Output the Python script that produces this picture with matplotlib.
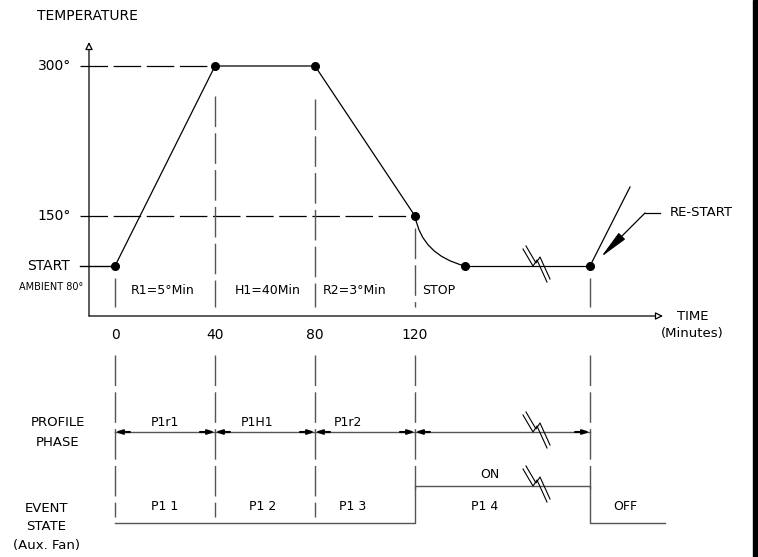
import matplotlib
matplotlib.use('Agg')
import matplotlib.pyplot as plt
from matplotlib.path import Path
from matplotlib.patches import PathPatch, Rectangle

# profile points (minutes, drawn temperature level; ambient start is drawn at level 100)
times = [0, 40, 80, 120, 140, 190]
temps = [100, 300, 300, 150, 100, 100]
tick_times = [0, 40, 80, 120]
tick_labels = ['0', '40', '80', '120']
restart_end = (206, 179)

# segment notes on the temperature chart
seg_notes = ['R1=5°Min', 'H1=40Min', 'R2=3°Min', 'STOP']
seg_note_x = [19, 61, 83, 123]
seg_note_ha = ['center', 'center', 'left', 'left']

# profile phase row
phase_bounds = [0, 40, 80, 120, 190]
phase_labels = ['P1r1', 'P1H1', 'P1r2']
phase_label_x = [20, 57, 93]

# event state row (0 = off, 1 = on)
event_bounds = [0, 120, 190, 220]
event_state = [0, 1, 0]
event_labels = ['P1 1', 'P1 2', 'P1 3', 'P1 4']
event_label_x = [20, 59, 95, 148]

BREAK_T = 168
PHASE_Y = -66
EV_LOW, EV_HIGH = -157, -120
AXIS_X, AXIS_Y = -10.4, 50
LEFT_T = -14

fig = plt.figure(figsize=(7.58, 5.57), dpi=100)
ax = fig.add_axes([0, 0, 1, 1])
ax.set_xlim(-46, 257.2)
ax.set_ylim(-191, 366)
ax.axis('off')

K = 'black'
G = '#555555'
DASH = (22, 4.5)
fs = 10

def vdash(t, y0, y1):
    ax.plot([t, t], [y0, y1], color=G, lw=1, dashes=DASH)

def break_mark(t, y):
    # CAD style break symbol, sizes in px converted to minutes / levels
    for off in (0, 3):
        xs = [-12 + off, -2 + off, 2 + off, 12 + off]
        ys = [17 + off, 0 + off, 6 + off, -16 + off]
        ax.plot([t + v / 2.5 for v in xs], [y + v for v in ys], color=K, lw=0.8)

# axes with open arrowheads
ax.annotate('', xy=(AXIS_X, 324), xytext=(AXIS_X, AXIS_Y),
            arrowprops=dict(arrowstyle='-|>', fc='white', ec=K, lw=0.9,
                            mutation_scale=11, shrinkA=0, shrinkB=0))
ax.annotate('', xy=(219.2, AXIS_Y), xytext=(AXIS_X, AXIS_Y),
            arrowprops=dict(arrowstyle='-|>', fc='white', ec=K, lw=0.9,
                            mutation_scale=11, shrinkA=0, shrinkB=0))

# guide lines
ax.plot([LEFT_T, times[1]], [300, 300], color=K, lw=0.9, dashes=DASH)
ax.plot([LEFT_T, times[3]], [150, 150], color=K, lw=0.9, dashes=DASH)
ax.plot([LEFT_T, times[0]], [temps[0], temps[0]], color=K, lw=1)

gaps = [12, 30, 33, 12, None, 12]
for t, lvl, g in zip(times, temps, gaps):
    if g is None:
        continue
    vdash(t, lvl - g, 59)
    low = EV_HIGH - 3 if t >= 120 else EV_LOW + 6
    vdash(t, 11, low)

# profile
ax.plot(times[:4], temps[:4], color=K, lw=0.9)
curve = Path([(times[3], temps[3]), (122.8, 111), (times[4], temps[4])],
             [Path.MOVETO, Path.CURVE3, Path.CURVE3])
ax.add_patch(PathPatch(curve, fc='none', ec=K, lw=0.9))
ax.plot(times[4:], temps[4:], color=K, lw=0.9)
ax.plot([times[5], restart_end[0]], [temps[5], restart_end[1]], color=K, lw=0.9)
ax.plot(times, temps, ls='none', marker='o', ms=5.5, color=K)
break_mark(BREAK_T, 100)

# re-start pointer
ax.plot([212, 218], [153, 153], color=K, lw=0.9)
ax.annotate('', xy=(194.4, 109), xytext=(212, 153),
            arrowprops=dict(arrowstyle='-|>,head_length=1.8,head_width=0.28',
                            fc=K, ec=K, lw=0.9, mutation_scale=10,
                            shrinkA=0, shrinkB=0))
ax.text(222, 153, 'RE-START', fontsize=fs - 0.5, va='center', ha='left')

# labels on the temperature chart
ax.text(-31.2, 350, 'TEMPERATURE', fontsize=fs, va='center', ha='left')
ax.text(-17.5, 300, '300°', fontsize=fs, va='center', ha='right')
ax.text(-17.5, 150, '150°', fontsize=fs, va='center', ha='right')
ax.text(-18, 100, 'START', fontsize=fs, va='center', ha='right')
ax.text(-12.8, 79, 'AMBIENT 80°', fontsize=7, va='center', ha='right')
for txt, x, ha in zip(seg_notes, seg_note_x, seg_note_ha):
    ax.text(x, 76, txt, fontsize=fs - 1, va='center', ha=ha)
for t, lab in zip(tick_times, tick_labels):
    ax.text(t, 31, lab, fontsize=fs, va='center', ha='center')
ax.text(231, 49, 'TIME', fontsize=fs - 0.5, va='center', ha='center')
ax.text(231, 33, '(Minutes)', fontsize=fs - 0.5, va='center', ha='center')

# profile phase row
ax.plot([phase_bounds[0], phase_bounds[-1]], [PHASE_Y, PHASE_Y], color=G, lw=1)
for a, b in zip(phase_bounds[:-1], phase_bounds[1:]):
    for tip, d in ((a, 1), (b, -1)):
        ax.annotate('', xy=(tip, PHASE_Y), xytext=(tip + d * 6, PHASE_Y),
                    arrowprops=dict(arrowstyle='-|>,head_length=0.5,head_width=0.16',
                                    fc=K, ec=K, lw=1.5, mutation_scale=8,
                                    shrinkA=0, shrinkB=0))
for lab, x in zip(phase_labels, phase_label_x):
    ax.text(x, PHASE_Y + 10, lab, fontsize=fs - 1, va='center', ha='center')
break_mark(BREAK_T, PHASE_Y)
ax.text(-23, PHASE_Y + 9, 'PROFILE', fontsize=fs - 0.5, va='center', ha='center')
ax.text(-23, PHASE_Y - 10, 'PHASE', fontsize=fs - 0.5, va='center', ha='center')

# event state row
ev_levels = [EV_HIGH if s else EV_LOW for s in event_state]
ax.step(event_bounds, ev_levels + [ev_levels[-1]], where='post', color=G, lw=1)
for lab, x in zip(event_labels, event_label_x):
    ax.text(x, -141, lab, fontsize=fs - 1, va='center', ha='center')
ax.text(150, -109, 'ON', fontsize=fs - 1, va='center', ha='center')
ax.text(204, -141, 'OFF', fontsize=fs - 1, va='center', ha='center')
break_mark(BREAK_T, EV_HIGH)
ax.text(-27.5, -142, 'EVENT', fontsize=fs - 0.5, va='center', ha='center')
ax.text(-27.5, -161, 'STATE', fontsize=fs - 0.5, va='center', ha='center')
ax.text(-27.5, -179, '(Aux. Fan)', fontsize=fs - 0.5, va='center', ha='center')

# right frame edge
fig.patches.append(Rectangle((753 / 758, 0), 5 / 758, 1, transform=fig.transFigure,
                             color=K, zorder=5))

fig.savefig('out.png', dpi=100)
